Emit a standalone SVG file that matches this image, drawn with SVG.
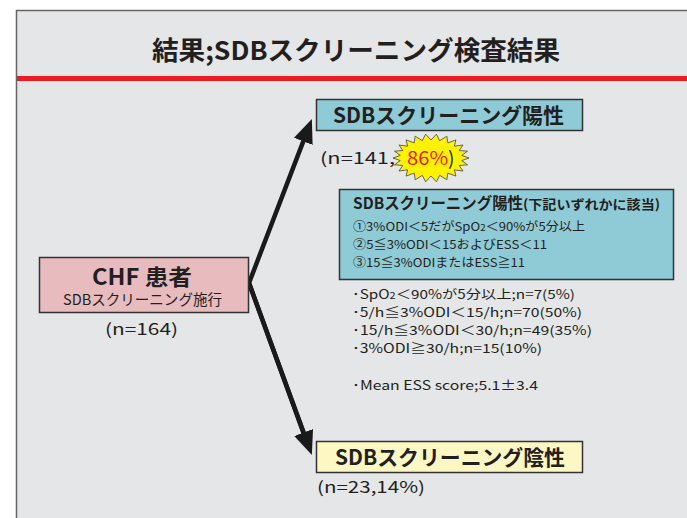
<svg xmlns="http://www.w3.org/2000/svg" width="687" height="518" viewBox="0 0 687 518">
<defs>
<style>
text{font-family:"Noto Sans CJK JP","Noto Sans",sans-serif;fill:#231f20}
.b{font-weight:bold}
.box{stroke:#333;stroke-width:1.5}
.conn{stroke:#1a1a1a;stroke-width:4.5;fill:none;stroke-linejoin:miter}
</style>
<marker id="ah" viewBox="0 0 24 20" refX="4" refY="10" markerWidth="24" markerHeight="20" markerUnits="userSpaceOnUse" orient="auto">
<path d="M0,0 L24,10 L0,20 Z" fill="#1a1a1a"/>
</marker>
</defs>
<rect x="0" y="0" width="687" height="518" fill="#ffffff"/>
<rect x="16.5" y="10.5" width="700" height="520" fill="#e5e6e8" stroke="#666" stroke-width="1.5"/>
<rect x="17" y="76" width="670" height="5" fill="#ed1c24"/>
<g id="title">
<text x="152" y="60" font-size="26" class="b" textLength="408" lengthAdjust="spacingAndGlyphs">結果;SDBスクリーニング検査結果</text>
</g>
<g id="connectors">
<path class="conn" d="M305,437 L249,283 L304.7,137.6" marker-end="url(#ah)"/>
<path class="conn" d="M249,283 L305,436.3" marker-end="url(#ah)"/>
</g>
<g id="chf">
<rect class="box" x="39.5" y="257.5" width="209" height="55" fill="#e8bcbf"/>
<text x="92" y="285" font-size="22" class="b" textLength="100" lengthAdjust="spacingAndGlyphs">CHF 患者</text>
<text x="63" y="305" font-size="15" textLength="159" lengthAdjust="spacingAndGlyphs">SDBスクリーニング施行</text>
<text x="105" y="335" font-size="16" textLength="73" lengthAdjust="spacingAndGlyphs">(n=164)</text>
</g>
<g id="positive">
<rect class="box" x="316.5" y="99.5" width="266" height="31" fill="#8fcbd6"/>
<text x="333" y="123" font-size="21" class="b" textLength="231" lengthAdjust="spacingAndGlyphs">SDBスクリーニング陽性</text>
<text x="320" y="164" font-size="16" textLength="75" lengthAdjust="spacingAndGlyphs">(n=141,</text>
<polygon fill="#fff200" stroke="#444" stroke-width="0.8" points="469,158 461.7,155.4 467.5,151.2 459.2,150.5 463,145 454.4,146.2 455.9,139.9 447.8,142.9 446.8,136.2 439.7,140.7 436.4,134.2 431,140 425.6,134.2 422.3,140.7 415.2,136.2 414.2,142.9 406.1,139.9 407.6,146.2 399,145 402.8,150.5 394.5,151.2 400.3,155.4 393,158 400.3,160.6 394.5,164.8 402.8,165.5 399,171 407.6,169.8 406.1,176.1 414.2,173.1 415.2,179.8 422.3,175.3 425.6,181.8 431,176 436.4,181.8 439.7,175.3 446.8,179.8 447.8,173.1 455.9,176.1 454.4,169.8 463,171 459.2,165.5 467.5,164.8 461.7,160.6"/>
<text x="407" y="165" font-size="19" textLength="41" lengthAdjust="spacingAndGlyphs" style="fill:#ed1c24">86%</text>
<text x="448" y="165" font-size="19">)</text>
</g>
<g id="criteria">
<rect class="box" x="339.5" y="189.5" width="334" height="90" fill="#8fcbd6"/>
<text x="353" y="209" font-size="16" class="b" textLength="170" lengthAdjust="spacingAndGlyphs">SDBスクリーニング陽性</text>
<text x="523" y="209" font-size="13" class="b" textLength="137" lengthAdjust="spacingAndGlyphs">(下記いずれかに該当)</text>
<text x="353" y="231" font-size="12" textLength="232" lengthAdjust="spacingAndGlyphs">①3%ODI＜5だがSpO<tspan font-size="9">2</tspan>＜90%が5分以上</text>
<text x="353" y="249" font-size="12" textLength="194" lengthAdjust="spacingAndGlyphs">②5≦3%ODI＜15およびESS＜11</text>
<text x="353" y="267" font-size="12" textLength="172" lengthAdjust="spacingAndGlyphs">③15≦3%ODIまたはESS≧11</text>
</g>
<g id="stats">
<text x="352" y="299" font-size="12.5" textLength="223" lengthAdjust="spacingAndGlyphs">･SpO<tspan font-size="9">2</tspan>＜90%が5分以上;n=7(5%)</text>
<text x="352" y="317" font-size="12.5" textLength="230" lengthAdjust="spacingAndGlyphs">･5/h≦3%ODI＜15/h;n=70(50%)</text>
<text x="352" y="335" font-size="12.5" textLength="240" lengthAdjust="spacingAndGlyphs">･15/h≦3%ODI＜30/h;n=49(35%)</text>
<text x="352" y="353" font-size="12.5" textLength="190" lengthAdjust="spacingAndGlyphs">･3%ODI≧30/h;n=15(10%)</text>
<text x="352" y="390" font-size="12.5" textLength="186" lengthAdjust="spacingAndGlyphs">･Mean ESS score;5.1±3.4</text>
</g>
<g id="negative">
<rect class="box" x="316.5" y="441.5" width="266" height="31" fill="#fdf7c3"/>
<text x="335" y="465" font-size="21" class="b" textLength="230" lengthAdjust="spacingAndGlyphs">SDBスクリーニング陰性</text>
<text x="317" y="493" font-size="16" textLength="108" lengthAdjust="spacingAndGlyphs">(n=23,14%)</text>
</g>
</svg>
